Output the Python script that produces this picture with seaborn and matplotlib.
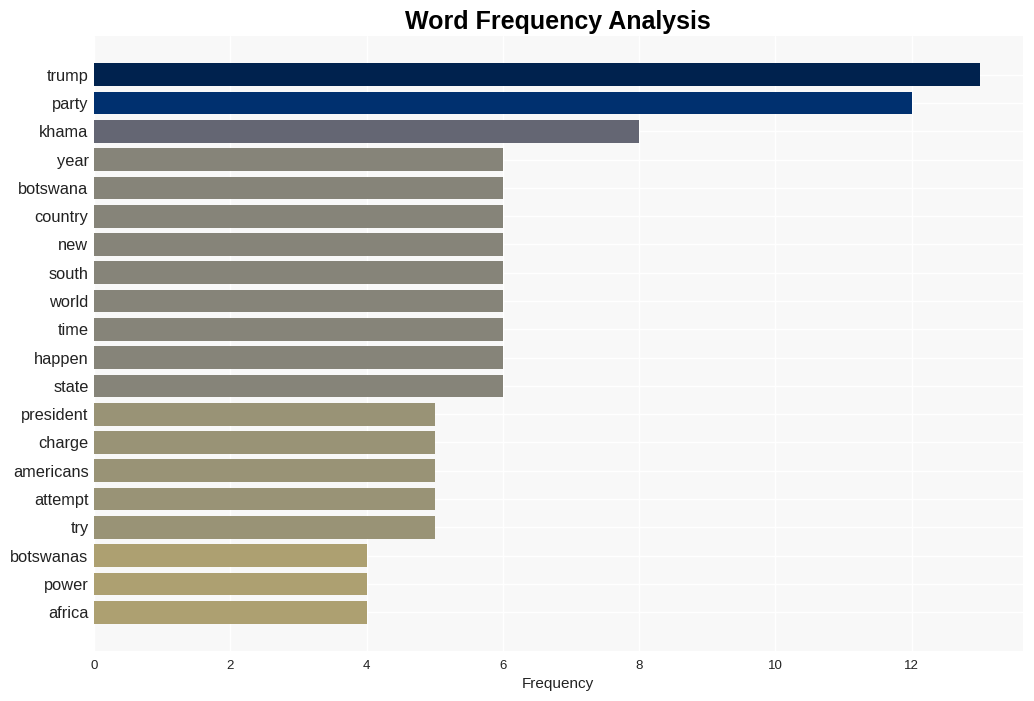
import matplotlib
matplotlib.use("Agg")
import matplotlib.pyplot as plt
import seaborn as sns
import pandas as pd

words = ["trump", "party", "khama", "year", "botswana", "country", "new", "south",
         "world", "time", "happen", "state", "president", "charge", "americans",
         "attempt", "try", "botswanas", "power", "africa"]
freqs = [13, 12, 8, 6, 6, 6, 6, 6, 6, 6, 6, 6, 5, 5, 5, 5, 5, 4, 4, 4]
colors = ["#00224e", "#00306f", "#646673", "#868479", "#868479", "#868479", "#868479",
          "#868479", "#868479", "#868479", "#868479", "#868479", "#999376", "#999376",
          "#999376", "#999376", "#999376", "#ada071", "#ada071", "#ada071"]

df = pd.DataFrame({"word": words, "freq": freqs})

sns.set_theme(style="whitegrid")
plt.rcParams["font.family"] = ["Liberation Sans", "DejaVu Sans"]

fig, ax = plt.subplots(figsize=(10.34, 7.01), dpi=100)
fig.subplots_adjust(left=0.091, right=0.989, top=0.949, bottom=0.071)
ax.set_facecolor("#f8f8f8")

sns.barplot(data=df, x="freq", y="word", hue="word", palette=colors, legend=False,
            width=0.8, ax=ax, saturation=1, linewidth=0, edgecolor="none")

ax.set_ylim(len(words) - 1 + 1.38, -1.38)
ax.set_xlim(0, 13.63)
ax.set_xticks([0, 2, 4, 6, 8, 10, 12])
ax.grid(True, color="white", linewidth=1)
ax.set_axisbelow(True)
for s in ax.spines.values():
    s.set_visible(False)
ax.tick_params(axis="y", labelsize=11.8, length=0, pad=4, labelcolor="#222222")
ax.tick_params(axis="x", labelsize=9.5, length=0, pad=6, labelcolor="#222222")
ax.set_xlabel("Frequency", fontsize=11, color="#222222")
ax.set_ylabel("")
ax.set_title("Word Frequency Analysis", fontsize=18, fontweight="bold", pad=5, color="black")

fig.savefig("out.png", dpi=100, facecolor="white")
